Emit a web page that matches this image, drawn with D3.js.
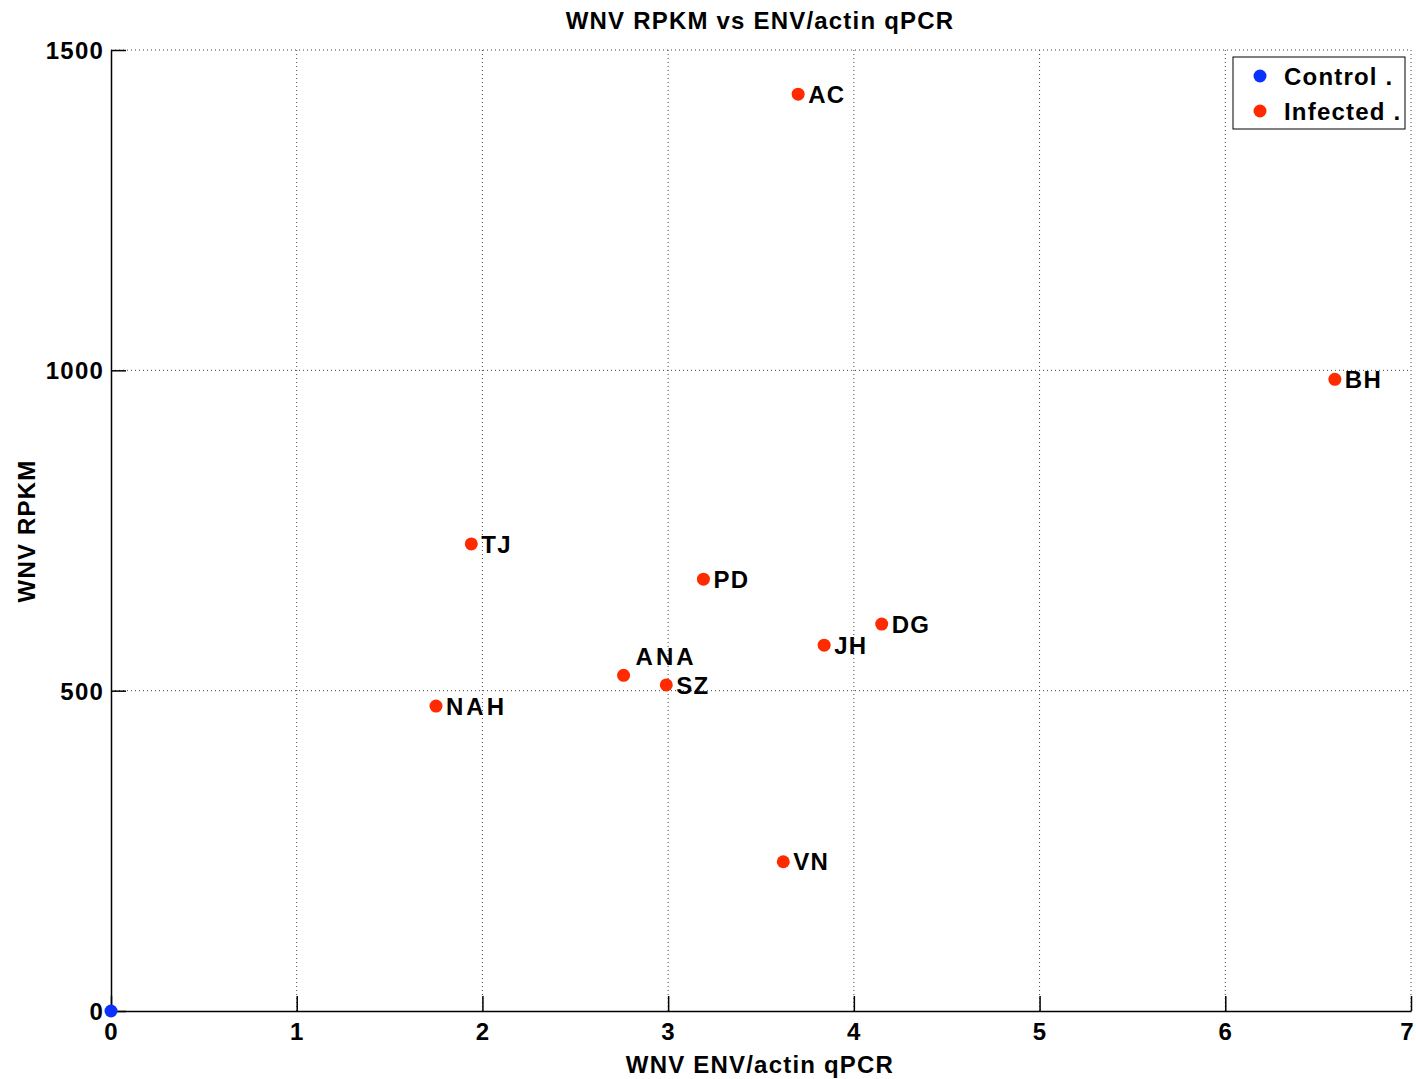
<!DOCTYPE html>
<html>
<head>
<meta charset="utf-8">
<script src="https://cdn.jsdelivr.net/npm/d3@7"></script>
<style>
  body { margin: 0; background: #fff; }
  svg text { font-family: "Liberation Sans", Arial, sans-serif; fill: #000; }
</style>
</head>
<body>
<svg id="chart" width="1416" height="1079"></svg>
<script>
const controlX = [0];
const controlY = [0];
const infectedNames = ["AC", "BH", "TJ", "PD", "DG", "JH", "ANA", "SZ", "NAH", "VN"];
const infectedX = [3.70, 6.59, 1.94, 3.19, 4.15, 3.84, 2.76, 2.99, 1.75, 3.62];
const infectedY = [1431, 986, 729, 674, 604, 571, 524, 509, 476, 233];
const xTicks = [0, 1, 2, 3, 4, 5, 6, 7];
const yTicks = [0, 500, 1000, 1500];
const seriesNames = ["Control .", "Infected ."];
const seriesColors = ["#0a32ff", "#ff2a00"];

(function () {
const svg = d3.select("#chart");
const mL = 111, mR = 1411, mT = 50, mB = 1011;
const FS = "24px", LS = "1.2px";
const x = d3.scaleLinear().domain([0, 7]).range([mL, mR]);
const y = d3.scaleLinear().domain([0, 1500]).range([mB, mT]);

function styleText(sel) {
  return sel.style("font-size", FS).style("font-weight", "bold")
    .style("font-family", "Liberation Sans, Arial, sans-serif")
    .style("letter-spacing", LS).attr("fill", "#000");
}

// grid
const grid = svg.append("g");
grid.selectAll("line.gx").data(xTicks.filter(d => d > 0)).join("line")
  .attr("x1", d => x(d)).attr("x2", d => x(d)).attr("y1", mT).attr("y2", mB)
  .attr("stroke", "#444").attr("stroke-width", 1).attr("stroke-dasharray", "1,3");
grid.selectAll("line.gy").data(yTicks.filter(d => d > 0)).join("line")
  .attr("x1", mL).attr("x2", mR).attr("y1", d => y(d)).attr("y2", d => y(d))
  .attr("stroke", "#444").attr("stroke-width", 1).attr("stroke-dasharray", "1,3");

// axes
const xAxis = d3.axisBottom(x).tickValues(xTicks).tickSizeInner(-15).tickSizeOuter(0).tickPadding(20).tickFormat(d3.format("d"));
const gx = svg.append("g").attr("transform", `translate(0,${mB})`).call(xAxis);
const yAxis = d3.axisLeft(y).tickValues(yTicks).tickSizeInner(-15).tickSizeOuter(0).tickPadding(7).tickFormat(d3.format("d"));
const gy = svg.append("g").attr("transform", `translate(${mL},0)`).call(yAxis);
[gx, gy].forEach(g => {
  g.select(".domain").attr("stroke", "#000").attr("stroke-width", 1.5);
  g.selectAll(".tick line").attr("stroke", "#000").attr("stroke-width", 1.5);
  styleText(g.selectAll(".tick text"));
});
gy.selectAll(".tick text").attr("dy", "0.36em");
gx.selectAll(".tick text").attr("dy", "0.36em").attr("y", 20)
  .attr("dx", d => d === xTicks[xTicks.length - 1] ? -4 : 0);

// title and labels
styleText(svg.append("text").attr("x", 760).attr("y", 29).attr("text-anchor", "middle"))
  .text("WNV RPKM vs ENV/actin qPCR");
styleText(svg.append("text").attr("x", 760).attr("y", 1073).attr("text-anchor", "middle"))
  .text("WNV ENV/actin qPCR");
styleText(svg.append("text").attr("transform", "translate(35,531) rotate(-90)").attr("text-anchor", "middle"))
  .text("WNV RPKM");

// points
const infected = infectedNames.map((n, i) => ({ name: n, x: infectedX[i], y: infectedY[i] }));
svg.append("g").selectAll("circle").data(infected).join("circle")
  .attr("cx", d => x(d.x)).attr("cy", d => y(d.y)).attr("r", 6.5).attr("fill", seriesColors[1]);
styleText(svg.append("g").selectAll("text").data(infected).join("text")
  .attr("x", d => d.name === "ANA" ? x(d.x) + 12 : x(d.x) + 10)
  .attr("y", d => d.name === "ANA" ? y(d.y) - 19 : y(d.y))
  .attr("dy", "0.36em"))
  .style("letter-spacing", d => (d.name === "ANA" || d.name === "NAH") ? "3px" : LS)
  .text(d => d.name);
svg.append("g").selectAll("circle").data(controlX.map((v, i) => ({ x: v, y: controlY[i] }))).join("circle")
  .attr("cx", d => x(d.x)).attr("cy", d => y(d.y)).attr("r", 6.5).attr("fill", seriesColors[0]);

// legend
const lg = svg.append("g");
lg.append("rect").attr("x", 1233).attr("y", 57).attr("width", 172).attr("height", 72)
  .attr("fill", "#fff").attr("stroke", "#000").attr("stroke-width", 1);
seriesNames.forEach((s, i) => {
  const cy = 76 + i * 35;
  lg.append("circle").attr("cx", 1260).attr("cy", cy).attr("r", 6.5).attr("fill", seriesColors[i]);
  styleText(lg.append("text").attr("x", 1284).attr("y", cy).attr("dy", "0.36em")).text(s);
});
})();
</script>
</body>
</html>
